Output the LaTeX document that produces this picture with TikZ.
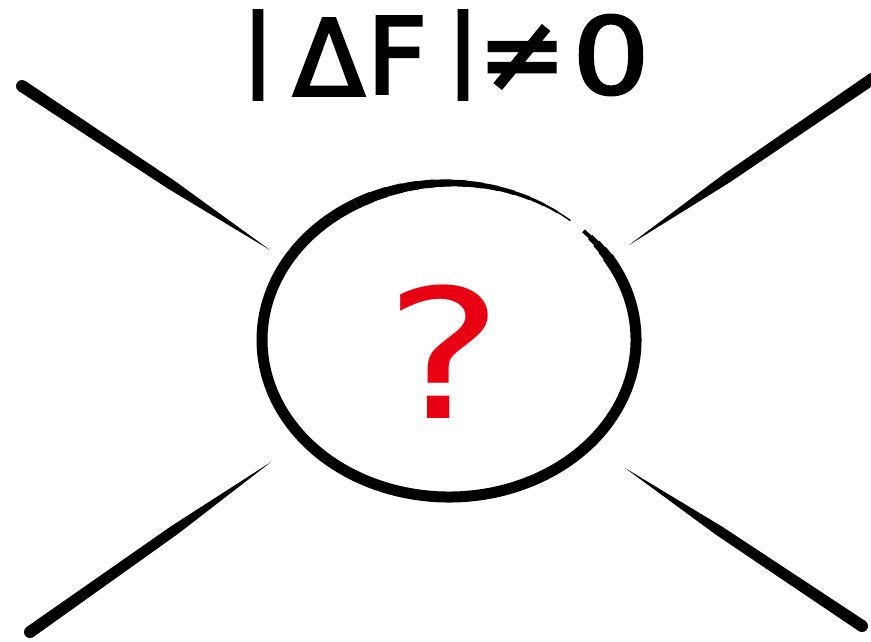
\documentclass[tikz,border=0pt]{standalone}
\usepackage{fontspec}
\setmainfont{DejaVu Sans}
\newfontfamily\titlefont[FakeBold=2.5]{DejaVu Sans}
\newfontfamily\barfont[FakeBold=4]{DejaVu Sans}
\usetikzlibrary{calc}
\definecolor{qred}{RGB}{232,0,18}
\tikzset{
  glyph/.style={inner sep=0pt, outer sep=0pt, anchor=center, font=\titlefont\fontsize{106}{106}\selectfont},
  bar/.style={inner sep=0pt, outer sep=0pt, anchor=center, font=\barfont\fontsize{88}{88}\selectfont},
  ink/.style={fill=black},
  blob/.style={x radius=187, y radius=157},
}
% tapered stroke: thick round end at #1, pointed end at #2, half width #3
\newcommand\brushline[3]{%
  \fill[ink] (#1) circle (#3);
  \fill[ink] ($(#1)!#3!90:(#2)$) -- ($($(#1)!0.6!(#2)$)!0.85*#3!90:(#2)$) -- (#2)
     -- ($($(#1)!0.6!(#2)$)!0.85*#3!-90:(#2)$) -- ($(#1)!#3!-90:(#2)$) -- cycle;}
\newcommand\blobarc[3]{%
  \draw[line width=#3] ($(c)+({187*cos(#1)},{157*sin(#1)})$)
    arc[start angle=#1, end angle=#2, blob];}
\begin{document}
\begin{tikzpicture}[x=1pt,y=-1pt]
\useasboundingbox (0,0) rectangle (871,641);
% legs
\coordinate (tlA) at (22,86);  \coordinate (tlB) at (270,250);
\coordinate (trA) at (872,79); \coordinate (trB) at (629,245);
\coordinate (blA) at (30,632); \coordinate (blB) at (271,462);
\coordinate (brA) at (862,626);\coordinate (brB) at (625,468);
\brushline{tlA}{tlB}{6pt}
\brushline{trA}{trB}{6pt}
\brushline{blA}{blB}{6pt}
\brushline{brA}{brB}{6pt}
% blob
\coordinate (c) at (449,340);
\foreach \a/\w in {-44/4,-41/6,-38/8,-35/9.5}{\blobarc{\a}{\a+3.5}{\w pt}}
\blobarc{-32}{240}{11pt}
\foreach \a in {240,245,...,305}{%
  \pgfmathsetmacro\w{11-9.5*(\a-240)/65}
  \blobarc{\a}{\a+5.5}{\w pt}}
\node[text=qred, inner sep=0pt, xscale=1.25, font=\fontsize{180}{180}\selectfont] (q) at (444,352) {?};
% title
\node[bar] (b1) at (258,55) {|};
\node[glyph] (d) at (329,57) {Δ};
\node[glyph] (f) at (397,55) {F};
\node[bar] (b2) at (463,55) {|};
\node[glyph] (ne) at (522,58) {≠};
\node[glyph, xscale=1.15] (z) at (611,55) {0};
\end{tikzpicture}
\end{document}
